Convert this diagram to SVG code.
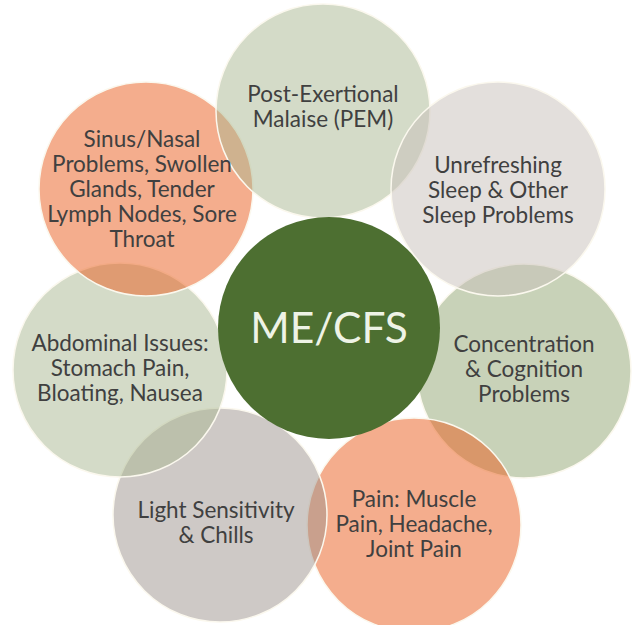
<svg xmlns="http://www.w3.org/2000/svg" width="636" height="625" viewBox="0 0 636 625">
<style>
.c{stroke:#fbf8ee;stroke-width:1.5;fill-opacity:0.5}
.t{font-family:Lato,"Liberation Sans",sans-serif;font-size:22.5px;fill:#404040;text-anchor:middle}
.m{font-family:Lato,"Liberation Sans",sans-serif;font-size:42.5px;fill:#eef3e6;text-anchor:middle}
</style>
<rect width="636" height="625" fill="#ffffff"/>
<g id="concentration">
<circle class="c" cx="524" cy="371" r="107" fill="#91A571"/>
</g>
<g id="pain">
<circle class="c" cx="414" cy="525" r="107" fill="#E95B1B"/>
</g>
<g id="light">
<circle class="c" cx="220" cy="515" r="107" fill="#9D938D"/>
</g>
<g id="abdominal">
<circle class="c" cx="120" cy="370" r="107" fill="#A9B791"/>
</g>
<g id="sinus">
<circle class="c" cx="146" cy="189" r="107" fill="#E95B1B"/>
</g>
<g id="pem">
<circle class="c" cx="323" cy="111" r="107" fill="#A9B791"/>
</g>
<g id="sleep">
<circle class="c" cx="498" cy="189" r="107" fill="#C7BFB9"/>
</g>
<g id="mecfs">
<circle cx="329" cy="328" r="111" fill="#4D6F31"/>
<text class="m" x="329" y="343">ME/CFS</text>
</g>
<g id="labels">
<text class="t" x="323" y="102">Post-Exertional</text>
<text class="t" x="323" y="127">Malaise (PEM)</text>
<text class="t" x="142" y="147">Sinus/Nasal</text>
<text class="t" x="142" y="172">Problems, Swollen</text>
<text class="t" x="142" y="197">Glands, Tender</text>
<text class="t" x="142" y="222">Lymph Nodes, Sore</text>
<text class="t" x="142" y="247">Throat</text>
<text class="t" x="498" y="173">Unrefreshing</text>
<text class="t" x="498" y="198">Sleep &amp; Other</text>
<text class="t" x="498" y="223">Sleep Problems</text>
<text class="t" x="524" y="352">Concentration</text>
<text class="t" x="524" y="377">&amp; Cognition</text>
<text class="t" x="524" y="402">Problems</text>
<text class="t" x="414" y="507">Pain: Muscle</text>
<text class="t" x="414" y="532">Pain, Headache,</text>
<text class="t" x="414" y="557">Joint Pain</text>
<text class="t" x="216" y="518">Light Sensitivity</text>
<text class="t" x="216" y="543">&amp; Chills</text>
<text class="t" x="120" y="351">Abdominal Issues:</text>
<text class="t" x="120" y="376">Stomach Pain,</text>
<text class="t" x="120" y="401">Bloating, Nausea</text>
</g>
</svg>
